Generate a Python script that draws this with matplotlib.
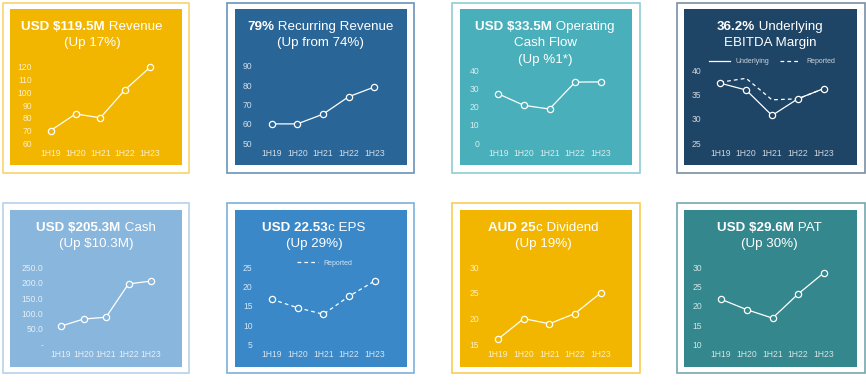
import matplotlib.pyplot as plt
from matplotlib.patches import Rectangle
from matplotlib.lines import Line2D

plt.rcParams['font.family'] = ['Liberation Sans', 'DejaVu Sans']

# ---------------- data ----------------
periods = ["1H19", "1H20", "1H21", "1H22", "1H23"]

revenue = [70, 83, 80, 102, 119.5]
recurring = [60, 60, 65, 74, 79]
op_cash_flow = [27, 20.7, 18.7, 33.4, 33.5]
ebitda_underlying = [37.3, 35.9, 30.7, 34.1, 36.2]
ebitda_reported = [37.5, 38.3, 33.9, 34.1, 36.2]
cash = [59, 82, 88, 196, 205.3]
eps_reported = [16.7, 14.5, 12.8, 17.5, 21.5]
dividend = [16, 20, 19, 21, 25]
pat = [21.7, 19.0, 16.8, 23.1, 28.6]

revenue_ticks = [60, 70, 80, 90, 100, 110, 120]
recurring_ticks = [50, 60, 70, 80, 90]
ocf_ticks = [0, 10, 20, 30, 40]
ebitda_ticks = [25, 30, 35, 40]
cash_ticks = [0, 50, 100, 150, 200, 250]
cash_tick_labels = ["-", "50.0", "100.0", "150.0", "200.0", "250.0"]
eps_ticks = [5, 10, 15, 20, 25]
dividend_ticks = [15, 20, 25, 30]
pat_ticks = [10, 15, 20, 25, 30]

# ---------------- layout (pixels) ----------------
W, H = 866, 386
fig = plt.figure(figsize=(W / 100, H / 100), dpi=100)
fig.patch.set_facecolor("white")

def fx(x):
    return x / W

def fy(y):
    return 1 - y / H

panels = [
    dict(fill="#F2B600", edge="#F8D46E", outer=(3, 3, 189, 173), inner=(10, 9, 182, 165),
         plot=(50.7, 150, 66.7, 143.3), title_x=92, title_y=[26.7, 43.3],
         title=[("USD $119.5M", " Revenue"), ("", "(Up 17%)")],
         series=[(revenue, "-", True)], ticks=revenue_ticks),
    dict(fill="#2A6597", edge="#6A93BA", outer=(227, 3, 414, 173), inner=(235, 9, 407, 165),
         plot=(271.7, 374.3, 65.7, 143.3), title_x=320.5, title_y=[26.7, 43.3],
         title=[("79%", " Recurring Revenue"), ("", "(Up from 74%)")],
         series=[(recurring, "-", True)], ticks=recurring_ticks),
    dict(fill="#49AFBA", edge="#90CDD3", outer=(452, 3, 640, 173), inner=(460, 9, 632, 165),
         plot=(498.3, 600.7, 70, 143.3), title_x=545, title_y=[26.7, 43.3, 60.3],
         title=[("USD $33.5M", " Operating"), ("", "Cash Flow"), ("", "(Up %1*)")],
         series=[(op_cash_flow, "-", True)], ticks=ocf_ticks),
    dict(fill="#1E4466", edge="#7890A6", outer=(677, 3, 865, 173), inner=(684, 9, 857, 165),
         plot=(720.3, 823.7, 70, 143.3), title_x=770, title_y=[27.3, 43.3],
         title=[("36.2%", " Underlying"), ("", "EBITDA Margin")],
         series=[(ebitda_reported, "--", False), (ebitda_underlying, "-", True)],
         ticks=ebitda_ticks,
         legend=([("-", "Underlying"), ("--", "Reported")], 772, 61.7)),
    dict(fill="#88B6DD", edge="#B5D2EC", outer=(3, 203, 189, 373), inner=(10, 210, 182, 367),
         plot=(61, 151, 267.3, 344.3), title_x=96, title_y=[227.7, 244.3],
         title=[("USD $205.3M", " Cash"), ("", "(Up $10.3M)")],
         series=[(cash, "-", True)], ticks=cash_ticks, tick_labels=cash_tick_labels),
    dict(fill="#3A88C7", edge="#7BB0DC", outer=(227, 203, 414, 373), inner=(235, 210, 407, 367),
         plot=(271.7, 375, 267.3, 344.3), title_x=314, title_y=[227.7, 244.3],
         title=[("USD 22.53", "c EPS"), ("", "(Up 29%)")],
         series=[(eps_reported, "--", True)], ticks=eps_ticks,
         legend=([("--", "Reported")], 325, 263.3)),
    dict(fill="#F2B600", edge="#F7CD55", outer=(452, 203, 640, 373), inner=(460, 210, 632, 367),
         plot=(498, 600.7, 267.3, 344.3), title_x=543, title_y=[227.7, 244.3],
         title=[("AUD 25", "c Dividend"), ("", "(Up 19%)")],
         series=[(dividend, "-", True)], ticks=dividend_ticks),
    dict(fill="#33878D", edge="#74A9AD", outer=(677, 203, 865, 373), inner=(684, 210, 857, 367),
         plot=(721, 824, 267.3, 344.3), title_x=769, title_y=[227.7, 244.3],
         title=[("USD $29.6M", " PAT"), ("", "(Up 30%)")],
         series=[(pat, "-", True)], ticks=pat_ticks),
]

tick_color = (1, 1, 1, 0.78)
renderer = fig.canvas.get_renderer()


def title_line(xc, y, bold, plain, size=9.6):
    tb = fig.text(0, fy(y), bold, fontsize=size, weight="bold", color="white",
                  va="center", ha="left", parse_math=False)
    tp = fig.text(0, fy(y), plain, fontsize=size, color="white",
                  va="center", ha="left", parse_math=False)
    wb = tb.get_window_extent(renderer).width if bold else 0
    wp = tp.get_window_extent(renderer).width
    x0 = xc - (wb + wp) / 2
    tb.set_x(fx(x0))
    tp.set_x(fx(x0 + wb))


for p in panels:
    ox0, oy0, ox1, oy1 = p["outer"]
    fig.patches.append(Rectangle((fx(ox0), fy(oy1)), fx(ox1 - ox0), (oy1 - oy0) / H,
                                 transform=fig.transFigure, facecolor="none",
                                 edgecolor=p["edge"], linewidth=1.2, zorder=-2))
    ix0, iy0, ix1, iy1 = p["inner"]
    fig.patches.append(Rectangle((fx(ix0), fy(iy1)), fx(ix1 - ix0), (iy1 - iy0) / H,
                                 transform=fig.transFigure, facecolor=p["fill"],
                                 edgecolor="none", zorder=-1))

    for (bold, plain), y in zip(p["title"], p["title_y"]):
        title_line(p["title_x"], y, bold, plain)

    xf, xl, yt, yb = p["plot"]
    s = (xl - xf) / 4
    ax = fig.add_axes([fx(xf - s / 2), fy(yb), fx(5 * s), (yb - yt) / H])
    ax.patch.set_visible(False)
    for sp in ax.spines.values():
        sp.set_visible(False)

    x = range(len(periods))
    for vals, ls, mark in p["series"]:
        ax.plot(x, vals, color="white", linestyle=ls, linewidth=0.9,
                dashes=(3, 2.5) if ls == "--" else (None, None),
                marker="o" if mark else None, markersize=4.5,
                markerfacecolor=p["fill"], markeredgecolor="white",
                markeredgewidth=0.9, clip_on=False, zorder=3)

    ax.set_xlim(-0.5, 4.5)
    ax.set_ylim(p["ticks"][0], p["ticks"][-1])
    ax.set_xticks(list(x))
    ax.set_xticklabels(periods)
    ax.set_yticks(p["ticks"])
    ax.set_yticklabels(p.get("tick_labels", [str(t) for t in p["ticks"]]))
    ax.tick_params(length=0, labelsize=6.2, colors=tick_color)
    ax.tick_params(axis="y", pad=4.5)
    ax.tick_params(axis="x", pad=4.0)

    if "legend" in p:
        items, lx, ly = p["legend"]
        handles = [Line2D([], [], color="white", linewidth=0.9, linestyle=ls,
                          dashes=(3, 2.5) if ls == "--" else (None, None))
                   for ls, _ in items]
        labels = [lab for _, lab in items]
        leg = ax.legend(handles, labels, loc="center", ncol=len(items),
                        bbox_to_anchor=(fx(lx), fy(ly)), bbox_transform=fig.transFigure,
                        frameon=False, fontsize=5, handlelength=3.0,
                        columnspacing=1.5, handletextpad=0.8)
        for t in leg.get_texts():
            t.set_color(tick_color)

fig.savefig("out.png", dpi=100, facecolor="white")
